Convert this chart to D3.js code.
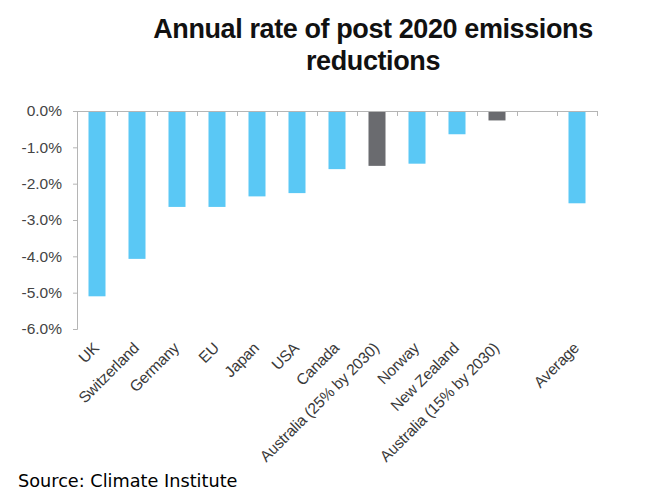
<!DOCTYPE html>
<html>
<head>
<meta charset="utf-8">
<script src="https://cdn.jsdelivr.net/npm/d3@7"></script>
<style>
  body { margin: 0; background: #fff; }
  svg { display: block; }
</style>
</head>
<body>
<svg width="658" height="495"></svg>
<script>
'use strict';

var categories = ['UK', 'Switzerland', 'Germany', 'EU', 'Japan', 'USA', 'Canada',
  'Australia (25% by 2030)', 'Norway', 'New Zealand', 'Australia (15% by 2030)', '', 'Average'];
var values = [-5.1, -4.07, -2.64, -2.64, -2.35, -2.26, -1.6, -1.51, -1.45, -0.64, -0.26, null, -2.54];
var highlight = [false, false, false, false, false, false, false, true, false, false, true, false, false];
var yTicks = [0, -1, -2, -3, -4, -5, -6];

var svg = d3.select('svg');
var margin = { top: 111, left: 77, right: 61, bottom: 166 };
var width = 658 - margin.left - margin.right,
    height = 495 - margin.top - margin.bottom;

var g = svg.append('g').attr('transform', 'translate(' + margin.left + ',' + margin.top + ')');

var xb = d3.scaleBand().domain(d3.range(categories.length)).range([0, width]);
var y = d3.scaleLinear().domain([0, -6]).range([0, height]);

// title
var titleLines = ['Annual rate of post 2020 emissions', 'reductions'];
svg.selectAll('.title')
  .data(titleLines)
  .enter().append('text')
  .attr('class', 'title')
  .attr('x', 373).attr('y', function (d, i) { return 38 + i * 32; })
  .attr('text-anchor', 'middle')
  .style('font-family', 'Liberation Sans, Arial, sans-serif')
  .style('font-weight', 'bold')
  .style('font-size', '27px')
  .style('letter-spacing', '-0.4px')
  .attr('fill', '#111')
  .text(function (d) { return d; });

// bars
g.selectAll('.bar')
  .data(values.map(function (v, i) { return { v: v, i: i }; }).filter(function (d) { return d.v !== null; }))
  .enter().append('rect')
  .attr('class', 'bar')
  .attr('x', function (d) { return xb(d.i) + xb.bandwidth() / 2 - 8.5; })
  .attr('width', 17)
  .attr('y', y(0))
  .attr('height', function (d) { return y(d.v) - y(0); })
  .attr('fill', function (d) { return highlight[d.i] ? '#6a6b6f' : '#5ac8f5'; });

// y axis
var yAxis = d3.axisLeft(y).tickValues(yTicks).tickSize(4).tickPadding(11)
  .tickFormat(function (d) { return d.toFixed(1) + '%'; });
var ya = g.append('g').call(yAxis);
ya.select('.domain').attr('stroke', '#b5b5b5').attr('d', 'M-4,0.5H0.5V' + (height + 0.5) + 'H-4');
ya.selectAll('.tick line').attr('stroke', '#b5b5b5');
ya.selectAll('.tick text')
  .style('font-family', 'Liberation Sans, Arial, sans-serif')
  .style('font-size', '15.5px')
  .attr('fill', '#444');

// x axis along zero with boundary ticks
var xa = g.append('g');
xa.append('line').attr('x1', 0).attr('x2', width).attr('y1', 0.5).attr('y2', 0.5).attr('stroke', '#b5b5b5');
xa.selectAll('.xt')
  .data(d3.range(categories.length + 1))
  .enter().append('line')
  .attr('x1', function (i) { return i * xb.bandwidth() + 0.5; })
  .attr('x2', function (i) { return i * xb.bandwidth() + 0.5; })
  .attr('y1', 0).attr('y2', 5)
  .attr('stroke', '#b5b5b5');

// category labels, rotated
g.selectAll('.xl')
  .data(categories)
  .enter().append('text')
  .attr('class', 'xl')
  .attr('transform', function (d, i) {
    return 'translate(' + (xb(i) + xb.bandwidth() / 2 + 3) + ',' + (height + 20) + ') rotate(-45)';
  })
  .attr('text-anchor', 'end')
  .style('font-family', 'Liberation Sans, Arial, sans-serif')
  .style('font-size', '15.5px')
  .style('letter-spacing', '-0.2px')
  .attr('fill', '#3a3a3a')
  .text(function (d) { return d; });

// source
svg.append('text')
  .attr('x', 18).attr('y', 487)
  .style('font-family', 'DejaVu Sans, sans-serif')
  .style('font-size', '17.7px')
  .attr('fill', '#000')
  .text('Source: Climate Institute');
</script>
</body>
</html>
